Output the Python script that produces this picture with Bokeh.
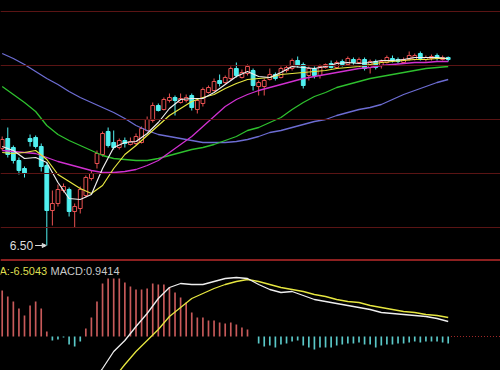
from bokeh.plotting import figure
from bokeh.models import (Range1d, Span, Label, Arrow, NormalHead, ColumnDataSource,
                          GlobalInlineStyleSheet)
from bokeh.embed import file_html
from bokeh.resources import INLINE

# ---------------- data ----------------
opens = [7.47, 7.57, 7.48, 7.35, 7.27, 7.57, 7.58, 7.49, 7.30, 6.85,
         6.92, 7.05, 7.06, 6.84, 6.87, 7.00, 7.17, 7.32, 7.41, 7.64,
         7.53, 7.48, 7.55, 7.51, 7.52, 7.53, 7.65, 7.75, 7.90, 7.86,
         7.95, 7.98, 7.93, 7.95, 8.00, 7.86, 7.92, 8.03, 8.05, 8.15,
         8.13, 8.17, 8.27, 8.18, 8.22, 8.25, 8.09, 8.09, 8.16, 8.21,
         8.18, 8.25, 8.27, 8.35, 8.31, 8.20, 8.27, 8.20, 8.28, 8.32,
         8.28, 8.34, 8.31, 8.36, 8.33, 8.36, 8.28, 8.34, 8.30, 8.33,
         8.37, 8.36, 8.33, 8.36, 8.36, 8.42, 8.36, 8.37, 8.40, 8.36,
         8.38]
closes = [7.56, 7.41, 7.35, 7.25, 7.22, 7.54, 7.49, 7.29, 6.85, 6.92,
          7.06, 7.09, 6.84, 6.89, 7.06, 7.18, 7.22, 7.42, 7.62, 7.50,
          7.48, 7.55, 7.52, 7.54, 7.59, 7.67, 7.76, 7.90, 7.85, 7.96,
          7.98, 7.95, 7.97, 7.98, 7.88, 7.95, 8.06, 8.08, 8.14, 8.12,
          8.18, 8.27, 8.20, 8.23, 8.29, 8.10, 8.13, 8.15, 8.21, 8.17,
          8.27, 8.28, 8.35, 8.30, 8.10, 8.27, 8.20, 8.29, 8.31, 8.28,
          8.33, 8.31, 8.37, 8.33, 8.36, 8.27, 8.34, 8.28, 8.34, 8.38,
          8.35, 8.34, 8.36, 8.40, 8.40, 8.37, 8.38, 8.39, 8.37, 8.38,
          8.36]
highs = [7.59, 7.68, 7.50, 7.38, 7.29, 7.61, 7.60, 7.52, 7.33, 7.05,
         7.11, 7.12, 7.08, 6.92, 7.09, 7.20, 7.25, 7.45, 7.64, 7.68,
         7.65, 7.57, 7.58, 7.58, 7.62, 7.69, 7.79, 7.93, 7.92, 7.98,
         8.02, 8.00, 8.02, 8.01, 8.02, 7.97, 8.08, 8.10, 8.17, 8.21,
         8.20, 8.29, 8.33, 8.26, 8.31, 8.27, 8.15, 8.17, 8.27, 8.23,
         8.29, 8.30, 8.37, 8.39, 8.33, 8.29, 8.29, 8.31, 8.32, 8.35,
         8.35, 8.36, 8.39, 8.38, 8.38, 8.38, 8.36, 8.36, 8.36, 8.40,
         8.40, 8.38, 8.38, 8.44, 8.42, 8.44, 8.40, 8.41, 8.42, 8.40,
         8.39]
lows = [7.45, 7.38, 7.32, 7.21, 7.18, 7.49, 7.47, 7.24, 6.50, 6.70,
        6.89, 7.03, 6.79, 6.68, 6.82, 6.98, 7.15, 7.27, 7.39, 7.48,
        7.46, 7.46, 7.48, 7.50, 7.50, 7.52, 7.64, 7.73, 7.84, 7.85,
        7.93, 7.80, 7.92, 7.93, 7.85, 7.82, 7.89, 8.02, 8.04, 8.09,
        8.11, 8.15, 8.18, 8.17, 8.20, 8.05, 8.00, 8.00, 8.15, 8.15,
        8.17, 8.23, 8.25, 8.28, 8.07, 8.15, 8.17, 8.17, 8.27, 8.27,
        8.27, 8.29, 8.30, 8.31, 8.32, 8.25, 8.22, 8.26, 8.27, 8.32,
        8.33, 8.32, 8.32, 8.35, 8.35, 8.35, 8.34, 8.35, 8.35, 8.35,
        8.34]

ma_idx = list(range(0, 81, 2))
ma_white = [7.49, 7.45, 7.37, 7.38, 7.33, 7.13, 6.97, 6.96, 7.01, 7.27,
            7.48, 7.53, 7.54, 7.62, 7.73, 7.87, 7.96, 7.97, 7.97, 8.03,
            8.11, 8.19, 8.24, 8.19, 8.18, 8.23, 8.29, 8.28, 8.27, 8.29,
            8.32, 8.33, 8.32, 8.33, 8.35, 8.35, 8.36, 8.38, 8.38, 8.38,
            8.37]
ma_yellow = [7.43, 7.42, 7.43, 7.45, 7.36, 7.21, 7.14, 7.07, 7.02, 7.10,
             7.27, 7.41, 7.50, 7.60, 7.70, 7.80, 7.87, 7.94, 7.98, 8.01,
             8.07, 8.12, 8.16, 8.17, 8.18, 8.21, 8.22, 8.23, 8.24, 8.25,
             8.27, 8.28, 8.29, 8.31, 8.33, 8.34, 8.35, 8.36, 8.36, 8.37,
             8.37]
ma_magenta = [7.45, 7.44, 7.43, 7.42, 7.38, 7.34, 7.31, 7.28, 7.25, 7.23,
              7.23, 7.24, 7.26, 7.30, 7.35, 7.43, 7.51, 7.59, 7.69, 7.79,
              7.89, 7.96, 8.01, 8.05, 8.08, 8.11, 8.14, 8.17, 8.19, 8.21,
              8.23, 8.25, 8.27, 8.28, 8.30, 8.31, 8.32, 8.33, 8.33, 8.34,
              8.34]
ma_green = [8.09, 8.01, 7.93, 7.84, 7.70, 7.61, 7.55, 7.50, 7.45, 7.40,
            7.37, 7.36, 7.35, 7.35, 7.37, 7.40, 7.43, 7.46, 7.48, 7.51,
            7.55, 7.59, 7.65, 7.68, 7.73, 7.78, 7.86, 7.93, 7.99, 8.03,
            8.08, 8.11, 8.14, 8.17, 8.19, 8.21, 8.23, 8.25, 8.27, 8.28,
            8.29]
ma_blue = [8.42, 8.37, 8.31, 8.24, 8.17, 8.11, 8.04, 7.98, 7.93, 7.88,
           7.83, 7.77, 7.70, 7.65, 7.61, 7.59, 7.57, 7.55, 7.53, 7.53,
           7.53, 7.54, 7.56, 7.59, 7.63, 7.65, 7.68, 7.71, 7.74, 7.76,
           7.80, 7.83, 7.86, 7.88, 7.91, 7.96, 8.01, 8.05, 8.09, 8.13,
           8.16]

macd_hist = [0.46, 0.40, 0.35, 0.28, 0.21, 0.31, 0.35, 0.28, 0.05, -0.04,
             -0.03, -0.01, -0.08, -0.10, -0.05, 0.08, 0.19, 0.35, 0.53, 0.58,
             0.58, 0.58, 0.54, 0.50, 0.47, 0.47, 0.48, 0.53, 0.52, 0.52,
             0.49, 0.44, 0.39, 0.34, 0.24, 0.19, 0.19, 0.16, 0.16, 0.14,
             0.13, 0.14, 0.12, 0.09, 0.07, 0.00, -0.07, -0.10, -0.09, -0.11,
             -0.08, -0.07, -0.05, -0.04, -0.09, -0.11, -0.13, -0.11, -0.11, -0.11,
             -0.09, -0.08, -0.07, -0.07, -0.06, -0.08, -0.08, -0.11, -0.09, -0.08,
             -0.08, -0.07, -0.07, -0.06, -0.05, -0.06, -0.05, -0.05, -0.05, -0.06,
             -0.07]
dif_idx = [17, 18] + list(range(20, 81, 2))
dif_vals = [-0.40, -0.32,
            -0.15, -0.04, 0.10, 0.23, 0.38, 0.49, 0.53, 0.52, 0.52, 0.55,
            0.58, 0.59, 0.58, 0.52, 0.47, 0.44, 0.45, 0.41, 0.37, 0.35,
            0.33, 0.31, 0.29, 0.27, 0.24, 0.23, 0.22, 0.21, 0.20, 0.18, 0.15]
dea_idx = list(range(20, 81, 2))
dea_vals = [-0.42, -0.28, -0.15, -0.04, 0.07, 0.20, 0.29, 0.38, 0.43, 0.48,
            0.52, 0.55, 0.57, 0.55, 0.52, 0.49, 0.47, 0.45, 0.42, 0.40,
            0.37, 0.35, 0.34, 0.31, 0.29, 0.27, 0.25, 0.24, 0.22, 0.21,
            0.19]

grid_levels = [6.68, 7.22, 7.76, 8.30, 8.84]
dea_label = "A:-6.5043"
macd_label = "MACD:0.9414"

# ---------------- figure ----------------
W, H = 500, 370
p = figure(width=W, height=H, output_backend="svg", toolbar_location=None,
           x_range=Range1d(-0.305, 89.38), y_range=Range1d(5.25, 8.95),
           min_border=0, background_fill_color="#000000",
           border_fill_color="#000000", outline_line_color=None)
p.extra_y_ranges = {"macd": Range1d(-0.34, 3.36)}
p.axis.visible = False
p.grid.visible = False
p.stylesheets = [GlobalInlineStyleSheet(css="html, body {margin:0; padding:0; background:#000000; overflow:hidden;}")]

for g in grid_levels:
    p.add_layout(Span(location=g, dimension="width", line_color="#5a1414", line_width=1))
# separator between panes
p.add_layout(Span(location=6.355, dimension="width", line_color="#8c2020", line_width=2))

idx = list(range(len(opens)))
up = [c >= o for o, c in zip(opens, closes)]
src = ColumnDataSource(dict(
    x=idx, o=opens, c=closes, h=highs, l=lows,
    top=[max(o, c) for o, c in zip(opens, closes)],
    bot=[min(o, c) for o, c in zip(opens, closes)],
    col=["#e65050" if u else "#50f0f0" for u in up],
    fill=["#000000" if u else "#50f0f0" for u in up],
))
p.segment(x0="x", y0="l", x1="x", y1="h", color="col", line_width=1, source=src)
p.vbar(x="x", width=0.68, top="top", bottom="bot", fill_color="fill",
       line_color="col", line_width=1, source=src)

# moving averages
p.line(ma_idx, ma_blue, color="#6c6cd2", line_width=1.3)
p.line(ma_idx, ma_green, color="#2ec02e", line_width=1.3)
p.line(ma_idx, ma_magenta, color="#d030d0", line_width=1.3)
p.line(ma_idx, ma_yellow, color="#e6e640", line_width=1.2)
p.line(ma_idx, ma_white, color="#eeeeee", line_width=1.2)

# low marker
imin = min(range(len(lows)), key=lambda i: lows[i])
low = lows[imin]
p.add_layout(Label(x=imin - 2.45, y=low, text=f"{low:.2f}", text_align="right",
                   text_baseline="middle", text_color="#dcdcdc", text_font_size="12px",
                   text_font="Liberation Sans"))
p.add_layout(Arrow(x_start=imin - 2.1, y_start=low, x_end=imin - 0.1, y_end=low,
                   line_color="#dcdcdc", line_width=1,
                   end=NormalHead(size=4, line_color="#dcdcdc", fill_color="#dcdcdc")))

# MACD pane
hsrc = ColumnDataSource(dict(x=idx, v=macd_hist,
                             col=["#c85a5a" if v >= 0 else "#5ac8c8" for v in macd_hist]))
p.vbar(x="x", width=0.3, top="v", bottom=0, fill_color="col", line_color=None,
       source=hsrc, y_range_name="macd")
p.segment(x0=[idx[-1] + 0.5], y0=[0], x1=[89.4], y1=[0], line_color="#a02828",
          line_width=1, line_dash="1 2", y_range_name="macd")
p.line(dea_idx, dea_vals, color="#e6e640", line_width=1.3, y_range_name="macd")
p.line(dif_idx, dif_vals, color="#eeeeee", line_width=1.3, y_range_name="macd")

p.add_layout(Label(x=-1, y=100, x_units="screen", y_units="screen", text=dea_label,
                   text_baseline="middle", text_color="#dede50", text_font_size="11px",
                   text_font="Liberation Sans"))
p.add_layout(Label(x=50, y=100, x_units="screen", y_units="screen", text=macd_label,
                   text_baseline="middle", text_color="#c8c8c8", text_font_size="11px",
                   text_font="Liberation Sans"))

open("out.html", "w").write(file_html(p, INLINE))
